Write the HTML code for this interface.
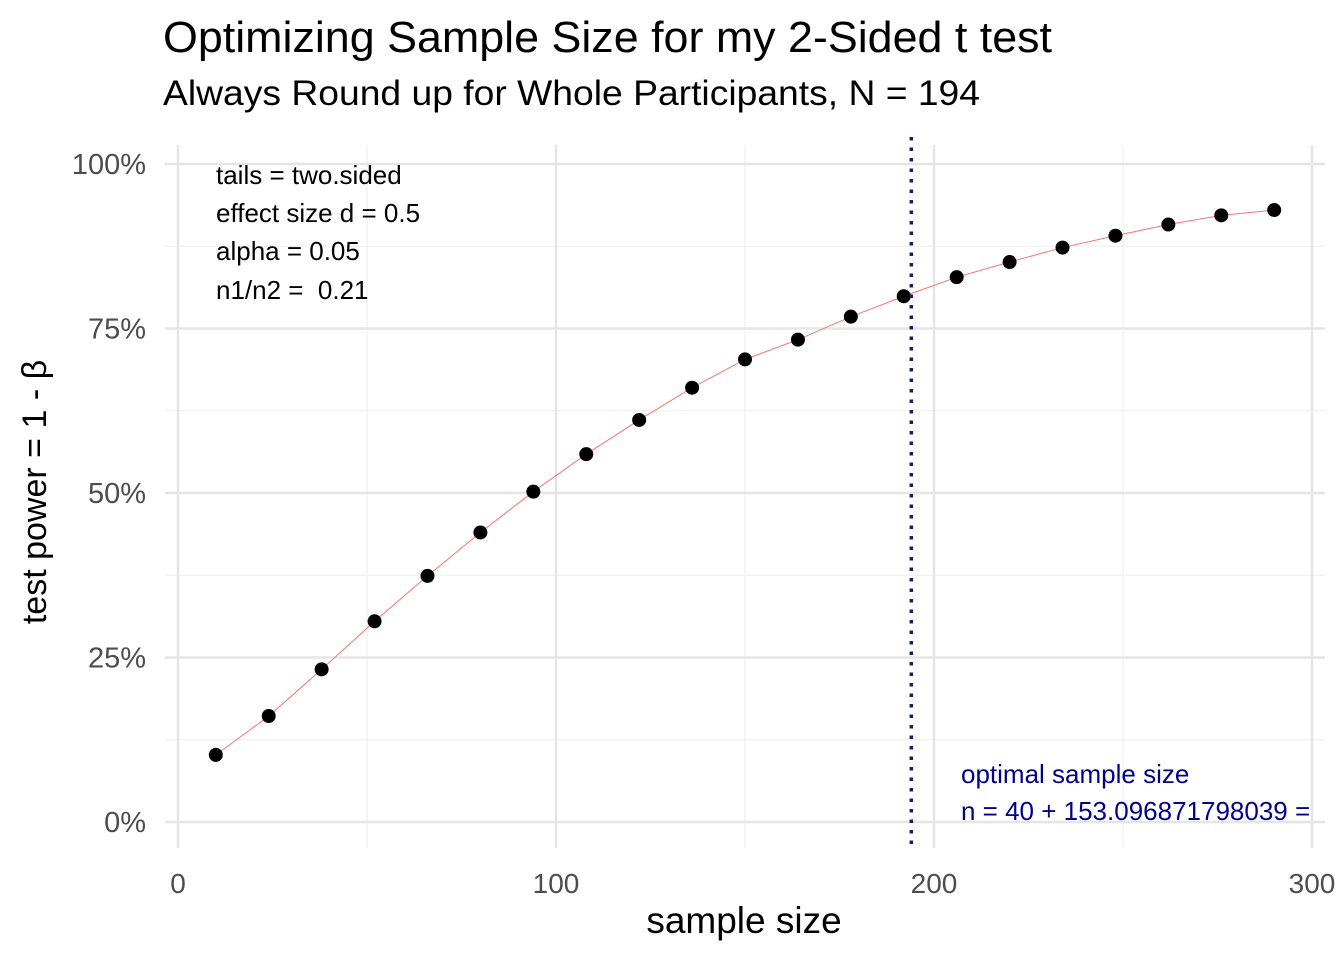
<!DOCTYPE html>
<html><head><meta charset="utf-8"><style>
body{margin:0;background:#fff;}
svg{display:block;font-family:"Liberation Sans",Arial,sans-serif;}
</style></head><body>
<svg id="chart" width="1344" height="960" viewBox="0 0 1344 960">
<text x="163" y="52" font-size="44" textLength="889" lengthAdjust="spacingAndGlyphs" fill="#000">Optimizing Sample Size for my 2-Sided t test</text>
<text x="163" y="105" font-size="35" textLength="817" lengthAdjust="spacingAndGlyphs" fill="#000">Always Round up for Whole Participants, N = 194</text>
<g id="grid"></g>
<g id="axes"></g>
<g id="marks"></g>
<g font-size="26" fill="#000">
<text x="216" y="184">tails = two.sided</text>
<text x="216" y="222">effect size d = 0.5</text>
<text x="216" y="260">alpha = 0.05</text>
<text x="216" y="299" xml:space="preserve">n1/n2 =  0.21</text>
</g>
<g font-size="26" fill="#00008B">
<text x="961" y="783">optimal sample size</text>
<text x="961" y="820">n = 40 + 153.096871798039 =</text>
</g>
<text x="744" y="933" font-size="37" text-anchor="middle" fill="#000">sample size</text>
<text transform="translate(46,492) rotate(-90)" font-size="34" text-anchor="middle" fill="#000">test power = 1 - β</text>
</svg>
<script>
const sampleSizes=[10,24,38,52,66,80,94,108,122,136,150,164,178,192,206,220,234,248,262,276,290];
const powers=[10.2,16.1,23.2,30.5,37.4,44.0,50.2,55.9,61.1,66.0,70.3,73.3,76.8,79.9,82.8,85.1,87.3,89.1,90.8,92.2,93.0];
const xTicks=[0,100,200,300];
const yTicks=[0,25,50,75,100];
const yTickLabels=["0%","25%","50%","75%","100%"];
const optimalN=[194];
const NS="http://www.w3.org/2000/svg";
const xs=v=>178+v*3.78;
const ys=v=>822-v*6.58;
function mk(tag,attrs,parent){const e=document.createElementNS(NS,tag);for(const k in attrs)e.setAttribute(k,attrs[k]);parent.appendChild(e);return e;}
const grid=document.getElementById('grid'),axes=document.getElementById('axes'),marks=document.getElementById('marks');
[50,150,250].forEach(v=>{const l=mk('line',{x1:xs(v),x2:xs(v),y1:145,y2:848,stroke:'#f0f0f0','stroke-width':1.2},grid);

});
[12.5,37.5,62.5,87.5].forEach(v=>{const l=mk('line',{x1:165,x2:1325,y1:ys(v),y2:ys(v),stroke:'#f0f0f0','stroke-width':1.2},grid);

});
xTicks.forEach(v=>{const l=mk('line',{x1:xs(v),x2:xs(v),y1:145,y2:848,stroke:'#e5e5e5','stroke-width':2.4},grid);


const t=mk('text',{x:xs(v),y:893,'font-size':28,'text-anchor':'middle',fill:'#4d4d4d'},axes);t.textContent=v;

});
yTicks.forEach((v,i)=>{const l=mk('line',{x1:165,x2:1325,y1:ys(v),y2:ys(v),stroke:'#e5e5e5','stroke-width':2.4},grid);


const t=mk('text',{x:146,y:ys(v)+10,'font-size':29,'text-anchor':'end',fill:'#4d4d4d'},axes);t.textContent=yTickLabels[i];

});
const line=mk('polyline',{points:sampleSizes.map((s,i)=>xs(s)+','+ys(powers[i])).join(' '),fill:'none',stroke:'#F8766D','stroke-width':1},marks);


sampleSizes.forEach((s,i)=>{const c=mk('circle',{cx:xs(s),cy:ys(powers[i]),r:7,fill:'#000'},marks);

});
optimalN.forEach(n=>{const v=mk('line',{x1:xs(n),x2:xs(n),y1:137,y2:850,stroke:'#191970','stroke-width':3.5,'stroke-dasharray':'3.5,7'},marks);

});
</script>
</body></html>
